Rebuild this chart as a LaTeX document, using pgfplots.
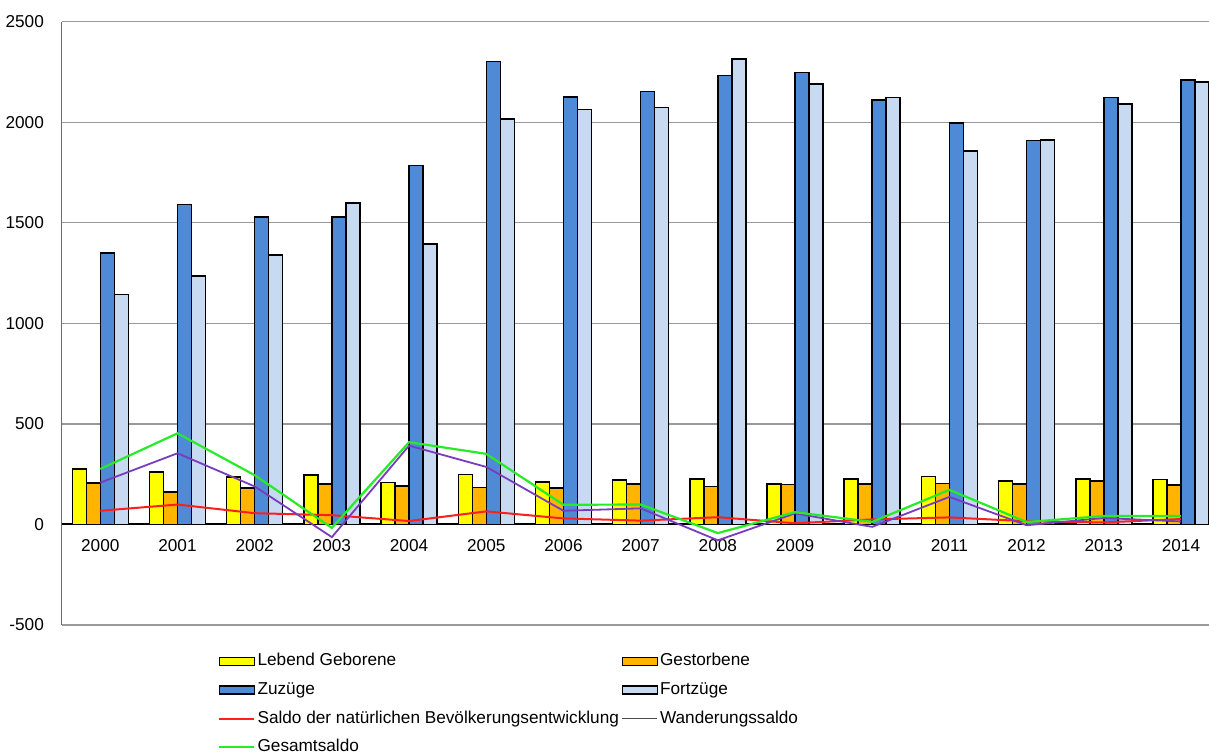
\documentclass[border=0pt]{standalone}
\usepackage{fontspec}
\setmainfont{Liberation Sans}
\usepackage{pgfplots}
\usepackage{pgfplotstable}
\pgfplotsset{compat=1.18}

\definecolor{cyel}{RGB}{255,255,0}
\definecolor{corg}{RGB}{255,180,0}
\definecolor{czu}{RGB}{78,138,214}
\definecolor{cfo}{RGB}{200,218,242}
\definecolor{cred}{RGB}{255,30,30}
\definecolor{cpur}{RGB}{120,60,190}
\definecolor{cgrn}{RGB}{40,235,40}

\pgfplotsset{
  barleg/.style={legend image code/.code={\draw[##1] (0pt,-2pt) rectangle (17.5pt,2pt);}},
  lineleg/.style={legend image code/.code={\draw[##1] (0pt,0pt) -- (17.5pt,0pt);}},
  mybar/.style={ybar, bar width=7pt, bar shift=#1, draw=black, line width=0.75pt, barleg},
}

\pgfplotstableread{
x L G Z F S W T
0 275 207 1351 1143 68 208 276
1 260 161 1590 1236 99 354 453
2 237 181 1530 1341 56 189 245
3 247 201 1530 1598 46 -63 -17
4 209 192 1786 1394 17 392 409
5 249 184 2301 2015 65 286 351
6 211 181 2126 2063 30 68 98
7 221 202 2153 2073 19 80 99
8 225 189 2233 2314 36 -79 -43
9 202 199 2248 2191 6 55 61
10 227 202 2111 2123 25 -12 13
11 239 204 1995 1856 35 137 172
12 217 201 1909 1912 16 -4 12
13 227 217 2123 2091 10 32 42
14 224 197 2211 2201 27 15 42
}\data

\begin{document}
\begin{tikzpicture}
\useasboundingbox (-30.85pt,-64.5pt) rectangle (573.65pt,312.5pt);
\begin{axis}[
  at={(0pt,0pt)}, anchor=south west,
  scale only axis,
  width=573.65pt, height=301.65pt,
  xmin=-0.5, xmax=14.363,
  ymin=-500, ymax=2500,
  axis x line*=middle,
  axis y line*=left,
  hide obscured y ticks=false,
  hide obscured x ticks=false,
  x axis line style={draw=none},
  y axis line style={gray!85!black, line width=0.75pt, -},
  major tick length=0pt,
  xtick={0,...,14},
  xticklabels={2000,2001,2002,2003,2004,2005,2006,2007,2008,2009,2010,2011,2012,2013,2014},
  ytick={-500,500,1000,1500,2000,2500},
  yticklabels={-500,500,1000,1500,2000,2500},
  extra y ticks={0},
  extra y tick labels={0},
  extra y tick style={grid style={black, line width=1pt}},
  ymajorgrids,
  grid style={gray!80, line width=0.7pt},
  font=\fontsize{8.6}{10}\selectfont,
  yticklabel style={xshift=-5.4pt},
  xticklabel style={yshift=-3.8pt},
  legend columns=2,
  legend cell align=left,
  legend style={at={(axis description cs:0.1362,-0.043)}, anchor=north west,
    draw=none, fill=none, inner sep=0pt, row sep=4.2pt, column sep=0pt,
    font=\fontsize{8.6}{10}\selectfont,
    nodes={inner sep=1pt, text height=6.3pt, text depth=1.8pt}},
]
\addplot[mybar=-10.5pt, fill=cyel] table[x=x, y=L] {\data};
\addlegendentry{Lebend Geborene}
\addplot[mybar=-3.5pt, fill=corg] table[x=x, y=G] {\data};
\addlegendentry{Gestorbene}
\addplot[mybar=3.5pt, fill=czu] table[x=x, y=Z] {\data};
\addlegendentry{Zuzüge}
\addplot[mybar=10.5pt, fill=cfo] table[x=x, y=F] {\data};
\addlegendentry{Fortzüge}
\addplot[cred, line width=1pt, mark=none, lineleg] table[x=x, y=S] {\data};
\addlegendentry{\makebox[181pt][l]{Saldo der natürlichen Bevölkerungsentwicklung}}
\addplot[cpur, line width=0.9pt, mark=none, forget plot] table[x=x, y=W] {\data};
\addlegendimage{lineleg, gray!60!black, line width=0.6pt}
\addlegendentry{Wanderungssaldo}
\addplot[cgrn, line width=1.1pt, mark=none, lineleg] table[x=x, y=T] {\data};
\addlegendentry{Gesamtsaldo}
\end{axis}
\end{tikzpicture}
\end{document}
